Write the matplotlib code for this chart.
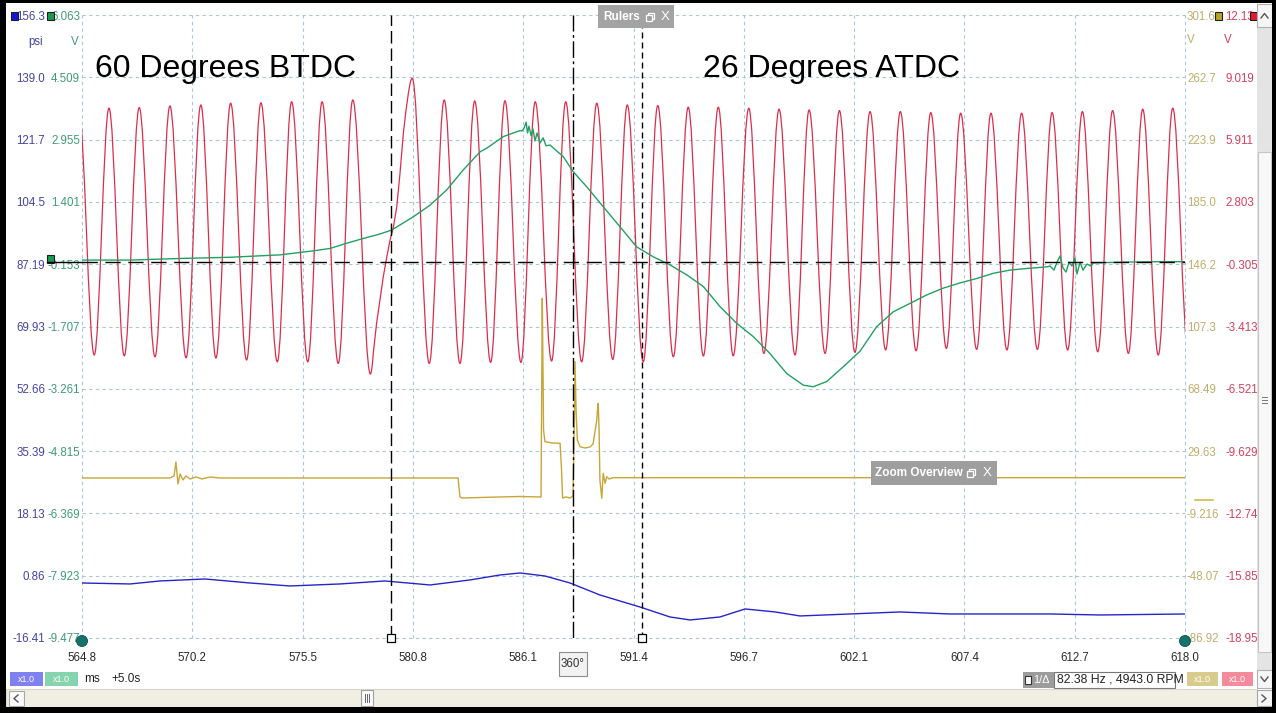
import matplotlib
matplotlib.use("Agg")
import matplotlib.pyplot as plt
from matplotlib.path import Path
from matplotlib.patches import PathPatch, Rectangle, Circle
import numpy as np

plt.rcParams['font.family'] = ['Liberation Sans', 'DejaVu Sans']

# ---------------- axis labels ----------------
x_tick_labels = ['564.8', '570.2', '575.5', '580.8', '586.1', '591.4', '596.7',
                 '602.1', '607.4', '612.7', '618.0']
psi_labels = ['156.3', '139.0', '121.7', '104.5', '87.19', '69.93', '52.66',
              '35.39', '18.13', '0.86', '-16.41']
green_labels = ['6.063', '4.509', '2.955', '1.401', '-0.153', '-1.707', '-3.261',
                '-4.815', '-6.369', '-7.923', '-9.477']
yellow_labels = ['301.6', '262.7', '223.9', '185.0', '146.2', '107.3', '68.49',
                 '29.63', '-9.216', '-48.07', '-86.92']
red_labels = ['12.13', '9.019', '5.911', '2.803', '-0.305', '-3.413', '-6.521',
              '-9.629', '-12.74', '-15.85', '-18.95']

# ---------------- red trace (crank sensor, V): alternating peaks / troughs ----------------
red_ext_t = [564.64, 565.39, 566.10, 566.84, 567.56, 568.32, 569.04, 569.82, 570.53, 571.26,
             571.97, 572.74, 573.43, 574.22, 574.91, 575.69, 576.38, 577.16, 577.86, 578.71,
             580.73, 581.55, 582.27, 583.03, 583.74, 584.51, 585.20, 585.97, 586.66, 587.45,
             588.13, 588.90, 589.63, 590.40, 591.10, 591.87, 592.57, 593.32, 594.04, 594.77,
             595.49, 596.21, 596.96, 597.69, 598.42, 599.19, 599.87, 600.64, 601.33, 602.08,
             602.81, 603.56, 604.27, 605.03, 605.74, 606.49, 607.18, 607.95, 608.64, 609.41,
             610.12, 610.88, 611.59, 612.34, 613.05, 613.79, 614.51, 615.27, 615.96, 616.71,
             617.41, 618.17]
red_ext_v = [7.49, -4.83, 7.48, -4.87, 7.51, -4.92, 7.59, -4.97, 7.64, -4.98,
             7.73, -5.08, 7.75, -5.17, 7.80, -5.17, 7.80, -5.25, 7.89, -5.78,
             8.97, -5.25, 7.89, -5.25, 7.84, -5.20, 7.85, -5.20, 7.80, -5.13,
             7.80, -5.17, 7.73, -5.05, 7.64, -5.17, 7.61, -4.92, 7.53, -4.88,
             7.53, -4.87, 7.48, -4.75, 7.43, -4.83, 7.39, -4.75, 7.36, -4.70,
             7.31, -4.58, 7.31, -4.62, 7.26, -4.50, 7.23, -4.55, 7.23, -4.58,
             7.23, -4.55, 7.26, -4.58, 7.31, -4.67, 7.36, -4.75, 7.43, -4.83,
             7.48, -4.88]
# missing-tooth rise (read point by point)
red_gap_t = [578.85, 579.01, 579.17, 579.33, 579.50, 579.66, 579.82, 579.98, 580.14,
             580.30, 580.43, 580.55, 580.64]
red_gap_v = [-4.73, -3.24, -2.09, -0.94, 0.06, 0.91, 1.55, 2.55, 4.25, 6.24, 7.39, 8.29, 8.79]

# ---------------- green trace (pressure transducer, V) ----------------
green_t = [564.80, 567.12, 569.53, 571.94, 574.35, 575.16, 575.96, 576.76, 577.57, 578.37,
           579.17, 579.74, 580.78, 581.59, 582.39, 583.19, 584.00, 584.32, 585.12, 585.93,
           586.02, 586.12, 586.22, 586.29, 586.36, 586.46, 586.55, 586.65, 586.75, 586.89,
           587.04, 587.18, 587.37, 588.01, 588.50, 589.14, 589.94, 590.75, 591.55, 592.36,
           593.16, 593.97, 594.77, 595.57, 596.38, 597.18, 597.98, 598.79, 599.59, 600.07,
           600.72, 601.52, 602.33, 603.13, 603.93, 604.74, 605.54, 606.34, 607.15, 607.95,
           608.75, 609.56, 610.37, 611.33, 611.49, 611.68, 611.83, 611.97, 612.12, 612.26,
           612.41, 612.55, 612.69, 612.79, 612.94, 613.08, 613.27, 613.47, 613.58, 615.19,
           616.79, 618.00]
green_v = [-0.05, -0.05, -0.01, 0.02, 0.08, 0.13, 0.18, 0.24, 0.37, 0.49,
           0.60, 0.70, 1.03, 1.32, 1.70, 2.20, 2.65, 2.74, 3.03, 3.18,
           3.17, 3.24, 3.39, 3.12, 3.29, 3.05, 3.22, 2.92, 3.12, 2.87,
           3.00, 2.80, 2.82, 2.53, 2.15, 1.78, 1.28, 0.78, 0.28, 0.03,
           -0.17, -0.42, -0.71, -1.21, -1.63, -1.96, -2.38, -2.88, -3.17, -3.21,
           -3.08, -2.71, -2.32, -1.71, -1.34, -1.13, -0.92, -0.75, -0.62, -0.51,
           -0.38, -0.30, -0.26, -0.22, -0.20, -0.30, -0.10, 0.05, -0.25, -0.35,
           -0.10, -0.20, 0.00, -0.40, -0.10, -0.30, -0.15, -0.20, -0.12, -0.10,
           -0.09, -0.09]

# ---------------- yellow trace (ignition, V) ----------------
yellow_t = [564.80, 569.04, 569.24, 569.33, 569.43, 569.53, 569.67, 569.82, 570.01, 570.30,
            570.59, 570.97, 571.46, 582.94, 583.03, 583.13, 584.96, 585.93, 586.89, 586.94,
            587.00, 587.04, 587.06, 587.13, 587.47, 587.86, 587.93, 587.98, 588.14, 588.34,
            588.48, 588.55, 588.58, 588.63, 588.69, 588.82, 589.06, 589.30, 589.45, 589.63,
            589.66, 589.70, 589.74, 589.78, 589.87, 589.94, 590.03, 590.11, 590.22, 590.43,
            618.00]
yellow_v = [12.87, 12.87, 14.12, 22.85, 9.13, 15.37, 11.63, 14.12, 12.25, 13.50,
            12.25, 13.50, 12.87, 12.87, 1.03, 0.40, 1.03, 1.34, 1.03, 1.03,
            124.93, 73.99, 42.81, 35.51, 34.70, 34.51, 17.86, 0.40, 1.03, 0.40,
            1.65, 49.04, 85.40, 55.28, 36.57, 32.39, 31.58, 32.20, 34.08, 49.04,
            55.28, 59.46, 42.81, 11.63, 0.21, 15.80, 9.57, 13.68, 12.25, 13.06,
            13.06]

# ---------------- blue trace (psi) ----------------
blue_t = [564.80, 567.12, 568.56, 570.73, 572.90, 574.83, 577.24, 579.41, 581.59, 583.51,
          584.96, 585.93, 587.13, 588.34, 589.78, 591.71, 593.16, 594.13, 595.57, 596.78,
          598.23, 599.43, 601.84, 604.25, 606.66, 609.08, 611.49, 613.90, 618.00]
blue_psi = [-1.16, -1.43, -0.60, -0.05, -1.16, -1.99, -1.43, -0.60, -1.71, -0.32,
            1.06, 1.62, 0.78, -1.16, -4.48, -7.81, -10.58, -11.41, -10.58, -8.36,
            -9.19, -10.30, -9.75, -9.19, -9.75, -9.75, -9.75, -10.03, -9.75]

# ---------------- rulers ----------------
ruler_t = [579.70, 588.48, 591.81]
ruler_green_v = -0.09
annotations = ['60 Degrees BTDC', '26 Degrees ATDC']

# ---------------- colours ----------------
C_BLUE, C_GREEN, C_YEL, C_RED = '#2626c8', '#22a062', '#c8a636', '#dc2e4c'
L_BLUE, L_GREEN, L_YEL, L_RED = '#4444a4', '#3f9c76', '#bfae6c', '#d6405e'

W, H = 1276, 713
fig = plt.figure(figsize=(W / 100, H / 100), dpi=100)
fig.patch.set_facecolor('white')

L, R, T, B = 82, 1185, 15, 638
ax = fig.add_axes([L / W, 1 - B / H, (R - L) / W, (B - T) / H])
ax_r = ax.twinx()
ax_y = ax.twinx()
ax_g = ax.twinx()
ax_r.set_zorder(1); ax_y.set_zorder(2); ax_g.set_zorder(3)

ax.set_xlim(564.8, 618.0)
ax.set_xticks(np.linspace(564.8, 618.0, len(x_tick_labels)))
ax.set_xticklabels(x_tick_labels)
ax.tick_params(axis='x', length=0, pad=10, labelsize=8.3, labelcolor='#2a2a2a')

def setup_y(a, labels, color, side, pad):
    vals = [float(s) for s in labels]
    a.set_ylim(vals[-1], vals[0])
    a.set_yticks(vals)
    a.set_yticklabels(labels)
    if side == 'left':
        a.yaxis.tick_left()
    else:
        a.yaxis.tick_right()
    a.tick_params(axis='y', length=0, pad=pad, labelsize=8.3, labelcolor=color)
    for s in a.spines.values():
        s.set_visible(False)

setup_y(ax, psi_labels, L_BLUE, 'left', 26.6)
setup_y(ax_g, green_labels, L_GREEN, 'left', 1.4)
setup_y(ax_y, yellow_labels, L_YEL, 'right', 1.4)
setup_y(ax_r, red_labels, L_RED, 'right', 28.8)

ax.grid(True, color='#a9c7d8', linestyle=(0, (3, 3)), linewidth=0.8)
for gl in ax.get_xgridlines() + ax.get_ygridlines():
    gl.set_clip_on(False)

# traces
ax.plot(blue_t, blue_psi, color=C_BLUE, lw=1.0)
ax_y.plot(yellow_t, yellow_v, color=C_YEL, lw=1.0)
ax_g.plot(green_t, green_v, color=C_GREEN, lw=1.0)

verts = [(red_ext_t[0], red_ext_v[0])]
codes = [Path.MOVETO]
gap_after = max(i for i, t in enumerate(red_ext_t) if t < red_gap_t[0])
k = 0.36
for i in range(len(red_ext_t) - 1):
    t0, v0 = red_ext_t[i], red_ext_v[i]
    t1, v1 = red_ext_t[i + 1], red_ext_v[i + 1]
    if i == gap_after:
        g0t, g0v = red_gap_t[0], red_gap_v[0]
        verts += [(t0 + 0.5 * (g0t - t0), v0), (g0t, g0v)]
        codes += [Path.CURVE3] * 2
        for t, v in zip(red_gap_t[1:], red_gap_v[1:]):
            verts.append((t, v)); codes.append(Path.LINETO)
        gl_t = red_gap_t[-1]
        verts += [(t1 - 0.5 * (t1 - gl_t), v1), (t1, v1)]
        codes += [Path.CURVE3] * 2
    else:
        dt = t1 - t0
        verts += [(t0 + k * dt, v0), (t1 - k * dt, v1), (t1, v1)]
        codes += [Path.CURVE4] * 3
ax_r.add_patch(PathPatch(Path(verts, codes), fill=False, edgecolor=C_RED, lw=0.9))

# rulers
ax_g.axhline(ruler_green_v, color='black', lw=1.0, dashes=(11, 5.5))
ax_g.axvline(ruler_t[0], color='black', lw=1.0, dashes=(9, 3.6))
ax_g.axvline(ruler_t[1], color='black', lw=1.0, dashes=(12, 2.5, 2, 2.5))
ax_g.axvline(ruler_t[2], color='black', lw=1.0, dashes=(4.3, 2.9))
ybot = float(green_labels[-1])
for t in (ruler_t[0], ruler_t[2]):
    ax_g.plot([t], [ybot], marker='s', ms=5.8, mfc='white', mec='black', mew=0.9,
              clip_on=False, zorder=6)

# ---------------- overlay (window chrome, pixel space) ----------------
ov = fig.add_axes([0, 0, 1, 1])
ov.set_xlim(0, W); ov.set_ylim(H, 0)
ov.axis('off'); ov.patch.set_visible(False)
ov.set_zorder(10)

def box(x0, y0, x1, y1, fc, ec='none', lw=0.8):
    ov.add_patch(Rectangle((x0, y0), x1 - x0, y1 - y0, facecolor=fc, edgecolor=ec, linewidth=lw))

def txt(x, y, s, **kw):
    kw.setdefault('va', 'center')
    kw.setdefault('fontsize', 8.3)
    ov.text(x, y, s, **kw)

def restore_icon(x, y):
    ov.add_patch(Rectangle((x + 2, y - 4), 6, 6, fill=False, edgecolor='white', lw=0.9))
    ov.add_patch(Rectangle((x, y - 2), 6, 6, facecolor='#a0a0a0', edgecolor='white', lw=0.9))

# big annotations
txt(95, 77, annotations[0], fontsize=23, va='baseline', color='black')
txt(703, 77, annotations[1], fontsize=23, va='baseline', color='black')

# units
txt(36, 42, 'psi', color=L_BLUE, ha='center')
txt(75, 42, 'V', color=L_GREEN, ha='center')
txt(1191, 40, 'V', color=L_YEL, ha='center')
txt(1228, 40, 'V', color=L_RED, ha='center')

# channel squares
box(11, 12, 18, 20, '#1414d8', ec='#202020')
box(47, 12, 54, 20, '#1a9a50', ec='#202020')
box(1215, 12, 1222, 20, '#b8a428', ec='#202020')
box(1250, 12, 1257, 20, '#e21c30', ec='#202020')
ov.plot([47, 82], [261.5, 261.5], color='black', lw=1.0)
box(47, 255, 54, 263, '#1a9a50', ec='#202020')
ov.plot([1195, 1213], [500, 500], color='#d4bc44', lw=1.2)
ov.add_patch(Circle((82, 641), 5.5, facecolor='#15736b', edgecolor='#0b4f49', lw=0.6))
ov.add_patch(Circle((1185, 641), 5.5, facecolor='#15736b', edgecolor='#0b4f49', lw=0.6))

# Rulers box
box(598, 5, 674, 28, '#a3a3a3')
txt(603, 17, 'Rulers', color='white', fontsize=8.5, fontweight='bold',
    family=['Liberation Sans Narrow', 'Liberation Sans', 'DejaVu Sans'])
restore_icon(646, 17)
txt(665, 17, 'X', color='white', fontsize=9.5, ha='center')

# Zoom overview box
box(871, 461, 997, 485, '#9e9e9e')
txt(875, 473, 'Zoom Overview', color='white', fontsize=8.5, fontweight='bold',
    family=['Liberation Sans Narrow', 'Liberation Sans', 'DejaVu Sans'])
restore_icon(967, 473)
txt(987, 473, 'X', color='white', fontsize=9.5, ha='center')

# 360 label
box(559, 652, 587, 676, '#f2f2f2', ec='#8c8c8c')
txt(573, 664, '360°', color='#333333', ha='center', fontsize=8.3)

# bottom info row
box(10, 672, 43, 686, '#8080f0')
txt(26.5, 679, 'x1.0', color='white', ha='center', fontsize=6.5)
box(45, 672, 78, 686, '#86d4ad')
txt(61.5, 679, 'x1.0', color='white', ha='center', fontsize=6.5)
txt(84, 679, 'ms', color='#222222', fontsize=8.5)
txt(111, 679, '+5.0s', color='#222222', fontsize=8.5)
box(1054, 672, 1175, 688, 'white', ec='#777777')
txt(1057, 680, '82.38 Hz , 4943.0 RPM', color='#222222', fontsize=8.8)
box(1023, 672, 1054, 688, '#9c9c9c')
box(1025, 676, 1031, 684, 'white', ec='#333333', lw=0.8)
txt(1033, 680, '1/Δ', color='white', fontsize=7.8)
box(1187, 672, 1218, 686, '#d8cc8c')
txt(1202.5, 679, 'x1.0', color='white', ha='center', fontsize=6.5)
box(1222, 672, 1253, 686, '#f48a9c')
txt(1237.5, 679, 'x1.0', color='white', ha='center', fontsize=6.5)

# right scrollbar
box(1257, 4, 1272, 688, '#e4e4e4')
box(1257, 4, 1272, 27, '#f6f6f6', ec='#b0b0b0')
ov.plot([1261, 1264.5, 1268], [18, 13.5, 18], color='#555555', lw=1.0)
box(1258, 152, 1271, 652, '#f8f8f8', ec='#c4c4c4')
for yy in (397, 400, 403):
    ov.plot([1262, 1267], [yy, yy], color='#777777', lw=0.7)
box(1257, 670, 1272, 688, '#f6f6f6', ec='#b0b0b0')
ov.plot([1261, 1264.5, 1268], [677, 681.5, 677], color='#555555', lw=1.0)

# bottom scrollbar
box(6, 689, 1257, 707, '#f1efe3', ec='#d8d6c8')
box(9, 691, 24, 706, '#fafafa', ec='#a8a8a8')
ov.plot([18, 14, 18], [695, 698.5, 702], color='#555555', lw=1.0)
box(361, 690, 373, 706, '#fafafa', ec='#a0a0a0')
for xx in (365, 367, 369):
    ov.plot([xx, xx], [694, 702], color='#666666', lw=0.7)
box(1257, 690, 1272, 706, '#f6f6f6', ec='#a8a8a8')
ov.plot([1262, 1266, 1262], [695, 698.5, 702], color='#555555', lw=1.0)

# window border
box(0, 0, W, 3, 'black')
box(0, 0, 6, H, 'black')
box(W - 4, 0, W, H, 'black')
box(0, H - 6, W, H, 'black')

fig.savefig('out.png', dpi=100)
